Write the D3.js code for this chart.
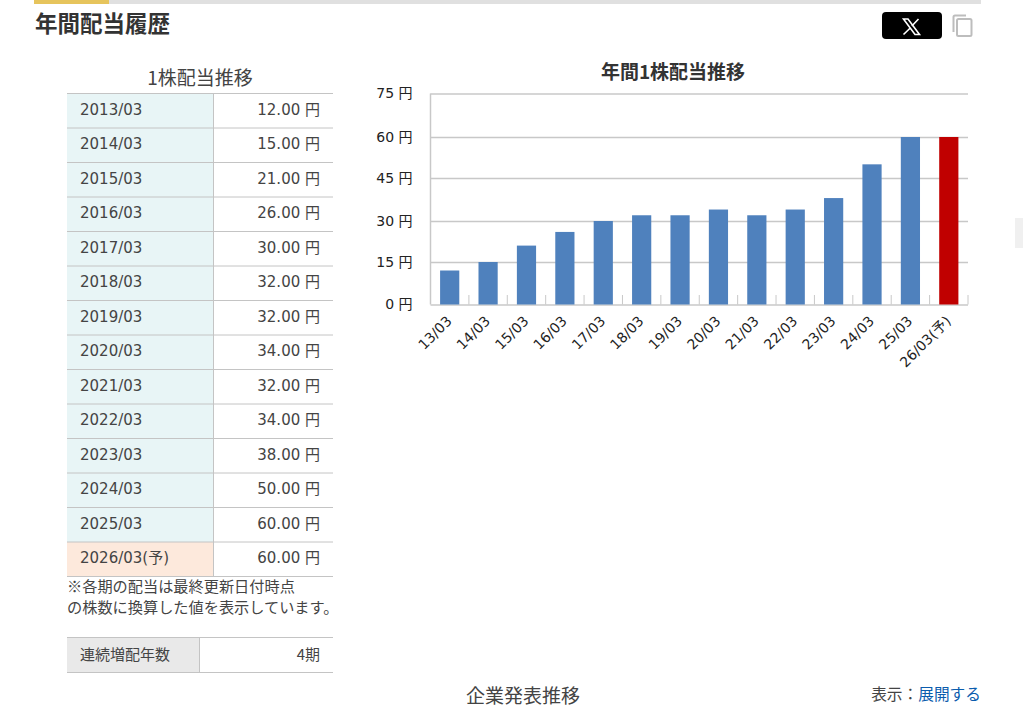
<!DOCTYPE html>
<html lang="ja">
<head>
<meta charset="utf-8">
<script src="https://cdn.jsdelivr.net/npm/d3@7"></script>
<style>
  html, body { margin: 0; padding: 0; background: #fff; overflow: hidden; }
  svg { display: block; }
  text { font-family: "DejaVu Sans", "Noto Sans CJK JP", sans-serif; fill: #444; }
  .cjk { font-family: "Noto Sans CJK JP", sans-serif; }
</style>
</head>
<body>
<div id="page"></div>
<script>
// Data
var periods = ["2013/03", "2014/03", "2015/03", "2016/03", "2017/03", "2018/03", "2019/03",
  "2020/03", "2021/03", "2022/03", "2023/03", "2024/03", "2025/03", "2026/03(予)"];
var axisLabels = ["13/03", "14/03", "15/03", "16/03", "17/03", "18/03", "19/03",
  "20/03", "21/03", "22/03", "23/03", "24/03", "25/03", "26/03(予)"];
var dividends = [12, 15, 21, 26, 30, 32, 32, 34, 32, 34, 38, 50, 60, 60];
var yTicks = [0, 15, 30, 45, 60, 75];
var noteLines = ["※各期の配当は最終更新日付時点", "の株数に換算した値を表示しています。"];

var svgWidth = 1023;
var svgHeight = 707;

var svg = d3.select("#page")
  .append("svg")
  .attr("width", svgWidth)
  .attr("height", svgHeight);

// Header bar
svg.append("rect").attr("x", 34).attr("y", 0).attr("width", 947).attr("height", 4).attr("fill", "#e0e0e0");
svg.append("rect").attr("x", 34).attr("y", 0).attr("width", 75).attr("height", 4).attr("fill", "#e6c45c");

svg.append("text")
  .attr("class", "cjk")
  .attr("x", 35)
  .attr("y", 32)
  .attr("font-size", "22.5px")
  .attr("font-weight", "bold")
  .style("fill", "#333")
  .text("年間配当履歴");

// X button and copy icon
svg.append("rect").attr("x", 882).attr("y", 12).attr("width", 60).attr("height", 27).attr("rx", 4).attr("fill", "#000");
svg.append("path")
  .attr("d", "M903.5 19h4.5l11.5 15.5h-4.5z")
  .attr("fill", "none")
  .attr("stroke", "#fff")
  .attr("stroke-width", 1.6);
svg.append("path")
  .attr("d", "M918.5 19l-6.6 7M910 28.2l-6.5 6.3")
  .attr("fill", "none")
  .attr("stroke", "#fff")
  .attr("stroke-width", 1.6);
svg.append("path")
  .attr("d", "M966 15.5h-11a1.5 1.5 0 0 0 -1.5 1.5v15")
  .attr("fill", "none")
  .attr("stroke", "#bdbdbd")
  .attr("stroke-width", 2);
svg.append("rect")
  .attr("x", 957).attr("y", 19).attr("width", 14.5).attr("height", 17).attr("rx", 1.5)
  .attr("fill", "#fff").attr("stroke", "#bdbdbd").attr("stroke-width", 2);

// Scrollbar remnant on the right edge
svg.append("rect").attr("x", 1015).attr("y", 218).attr("width", 8).attr("height", 30).attr("fill", "#f0f0f0");

// Dividend table
var rowScale = d3.scaleBand()
  .domain(periods)
  .range([93.5, 576.5]);

svg.append("text")
  .attr("class", "cjk")
  .attr("x", 200)
  .attr("y", 85)
  .attr("text-anchor", "middle")
  .attr("font-size", "19px")
  .text("1株配当推移");

var rows = svg.append("g").selectAll("g")
  .data(periods)
  .enter()
  .append("g")
  .attr("transform", d => `translate(0, ${rowScale(d)})`);

rows.append("rect")
  .attr("x", 67)
  .attr("width", 146)
  .attr("height", rowScale.bandwidth())
  .attr("fill", (d, i) => i == periods.length - 1 ? "#fde9dc" : "#e8f5f6");

rows.append("text")
  .attr("x", 80)
  .attr("y", rowScale.bandwidth() / 2 + 4)
  .attr("font-size", "15px")
  .text(d => d);

rows.append("text")
  .attr("x", 320)
  .attr("y", rowScale.bandwidth() / 2 + 4)
  .attr("text-anchor", "end")
  .attr("font-size", "15px")
  .text((d, i) => dividends[i].toFixed(2) + " 円");

rows.append("line")
  .attr("x1", 67).attr("x2", 333)
  .attr("stroke", "#c4c4c4");

svg.append("line")
  .attr("x1", 67).attr("x2", 333)
  .attr("y1", 576.5).attr("y2", 576.5)
  .attr("stroke", "#c4c4c4");
svg.append("line")
  .attr("x1", 213.5).attr("x2", 213.5)
  .attr("y1", 93.5).attr("y2", 576.5)
  .attr("stroke", "#c4c4c4");

// Note
svg.append("g").selectAll("text")
  .data(noteLines)
  .enter()
  .append("text")
  .attr("class", "cjk")
  .attr("x", 67)
  .attr("y", (d, i) => 592 + i * 21)
  .attr("font-size", "15.2px")
  .text(d => d);

// Consecutive increases table
svg.append("rect").attr("x", 67).attr("y", 637.5).attr("width", 132).attr("height", 35).attr("fill", "#e9e9e9");
svg.append("line").attr("x1", 67).attr("x2", 333).attr("y1", 637.5).attr("y2", 637.5).attr("stroke", "#c4c4c4");
svg.append("line").attr("x1", 67).attr("x2", 333).attr("y1", 672.5).attr("y2", 672.5).attr("stroke", "#c4c4c4");
svg.append("line").attr("x1", 199.5).attr("x2", 199.5).attr("y1", 637.5).attr("y2", 672.5).attr("stroke", "#c4c4c4");
svg.append("text").attr("class", "cjk").attr("x", 80).attr("y", 660).attr("font-size", "15px").text("連続増配年数");
svg.append("text").attr("class", "cjk").attr("x", 320).attr("y", 660).attr("text-anchor", "end").attr("font-size", "15px").text("4期");

// Footer
svg.append("text").attr("class", "cjk").attr("x", 523).attr("y", 703).attr("text-anchor", "middle").attr("font-size", "19px").text("企業発表推移");
var footer = svg.append("text").attr("class", "cjk").attr("x", 981).attr("y", 700).attr("text-anchor", "end").attr("font-size", "15.7px");
footer.append("tspan").text("表示：");
footer.append("tspan").style("fill", "#0b5cad").text("展開する");

// Chart
var xScale = d3.scaleBand()
  .domain(axisLabels)
  .range([430.5, 968])
  .padding(0.5)
  .paddingOuter(0.25);

// the tick rows in the picture are not quite evenly spaced, so each one is its own stop
var yScale = d3.scaleLinear()
  .domain(yTicks)
  .range([304.5, 262, 221, 178, 137, 93.5]);

svg.append("text")
  .attr("class", "cjk")
  .attr("x", 673)
  .attr("y", 79)
  .attr("text-anchor", "middle")
  .attr("font-size", "19px")
  .attr("font-weight", "bold")
  .style("fill", "#333")
  .text("年間1株配当推移");

var yAxis = d3.axisLeft(yScale)
  .tickValues(yTicks)
  .tickSize(-537.5)
  .tickPadding(18)
  .tickFormat(d => d + " 円");

var yGroup = svg.append("g")
  .attr("transform", "translate(430.5, 0)")
  .call(yAxis);
yGroup.select(".domain").remove();
yGroup.selectAll("line").attr("stroke", "#c8c8c8").attr("stroke-width", 1.5);
yGroup.selectAll("text").attr("font-size", "14px").attr("font-family", null).style("fill", "#222");

svg.append("line")
  .attr("x1", 430.5).attr("x2", 430.5)
  .attr("y1", 93.5).attr("y2", 304.5)
  .attr("stroke", "#c8c8c8")
  .attr("stroke-width", 1.5);

// Ticks between the bars point up into the plot
svg.append("g").selectAll("line")
  .data(axisLabels)
  .enter()
  .append("line")
  .attr("x1", d => xScale(d) + xScale.step() * 0.75)
  .attr("x2", d => xScale(d) + xScale.step() * 0.75)
  .attr("y1", 295)
  .attr("y2", 304.5)
  .attr("stroke", "#c8c8c8");

svg.append("g").selectAll("rect")
  .data(dividends)
  .enter()
  .append("rect")
  .attr("x", (d, i) => xScale(axisLabels[i]))
  .attr("y", d => yScale(d))
  .attr("width", xScale.bandwidth())
  .attr("height", d => yScale(0) - yScale(d))
  .attr("fill", (d, i) => i == dividends.length - 1 ? "#c00000" : "#4f81bd");

svg.append("g").selectAll("text")
  .data(axisLabels)
  .enter()
  .append("text")
  .attr("transform", d => `translate(${xScale(d) + xScale.bandwidth() / 2 + 3}, 322) rotate(-45)`)
  .attr("text-anchor", "end")
  .attr("font-size", "14px")
  .style("fill", "#222")
  .text(d => d);
</script>
</body>
</html>
